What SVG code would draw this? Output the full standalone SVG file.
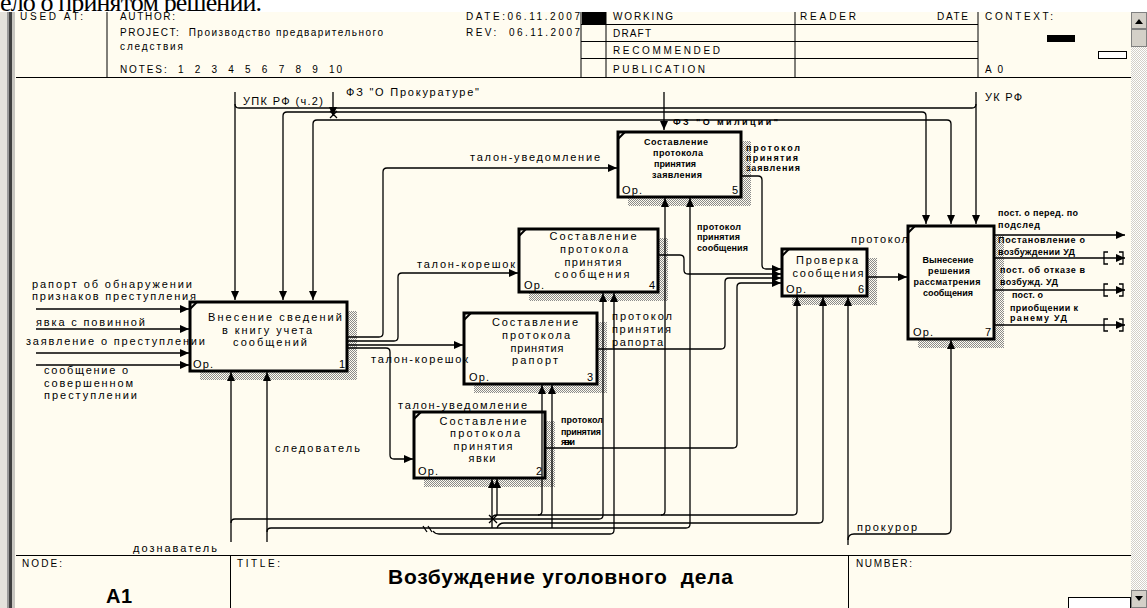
<svg xmlns="http://www.w3.org/2000/svg" width="1147" height="608" viewBox="0 0 1147 608">
<defs>
<style>
.t{font-family:"Liberation Sans",Arial,sans-serif;font-size:11px;fill:#000}
.s{font-family:"Liberation Sans",Arial,sans-serif;font-size:9px;font-weight:bold;fill:#000}
.h{font-family:"Liberation Sans",Arial,sans-serif;font-size:10px;fill:#000;white-space:pre}
.m{text-anchor:middle}
.ln{fill:none;stroke:#000;stroke-width:1.3}
.ar{marker-end:url(#a)}
.bx{fill:#FFFCF0;stroke:#000;stroke-width:3}
.sh{fill:url(#hatch)}
.fr{stroke:#000;stroke-width:1;fill:none}
.ck{fill:none;stroke:#000;stroke-width:2}
</style>
<pattern id="hatch" width="2" height="2" patternUnits="userSpaceOnUse"><rect width="2" height="2" fill="#FFFCF0"/><rect width="1" height="1" fill="#8a8a8a"/><rect x="1" y="1" width="1" height="1" fill="#8a8a8a"/></pattern>
<pattern id="chk" width="2" height="2" patternUnits="userSpaceOnUse"><rect width="2" height="2" fill="#ffffff"/><rect width="1" height="1" fill="#d4d0c8"/><rect x="1" y="1" width="1" height="1" fill="#d4d0c8"/></pattern>
<marker id="a" markerWidth="10" markerHeight="8" refX="9" refY="4" orient="auto" markerUnits="userSpaceOnUse"><path d="M0,0 L9,4 L0,8 z" fill="#000"/></marker>
<clipPath id="topc"><rect x="0" y="0" width="1147" height="12"/></clipPath>
</defs>

<rect x="0" y="0" width="1147" height="608" fill="#FFFCF0"/>

<g id="header">
<line class="fr" x1="107" y1="12" x2="107" y2="77"/>
<line class="fr" x1="581" y1="12" x2="581" y2="77"/>
<line class="fr" x1="606" y1="12" x2="606" y2="77"/>
<line class="fr" x1="795" y1="12" x2="795" y2="77"/>
<line class="fr" x1="978" y1="12" x2="978" y2="77"/>
<line class="fr" x1="581" y1="24.5" x2="978" y2="24.5"/>
<line class="fr" x1="581" y1="41.5" x2="978" y2="41.5"/>
<line class="fr" x1="581" y1="58.5" x2="978" y2="58.5"/>
<line class="fr" x1="16" y1="77.5" x2="1131" y2="77.5"/>
<rect x="582" y="12" width="24" height="12" fill="#000"/>
<text class="h" x="20" y="20" textLength="63">USED AT:</text>
<text class="h" x="120" y="20" textLength="55">AUTHOR:</text>
<text class="h" x="120" y="36" textLength="263">PROJECT:  Производство предварительного</text>
<text class="h" x="120" y="50" textLength="63">следствия</text>
<text class="h" x="120" y="73" textLength="222">NOTES:  1  2  3  4  5  6  7  8  9  10</text>
<text class="h" x="466" y="20" textLength="114">DATE:06.11.2007</text>
<text class="h" x="466" y="36" textLength="114">REV:  06.11.2007</text>
<text class="h" x="613" y="20" textLength="60">WORKING</text>
<text class="h" x="613" y="37" textLength="38">DRAFT</text>
<text class="h" x="613" y="54" textLength="107">RECOMMENDED</text>
<text class="h" x="613" y="73" textLength="92">PUBLICATION</text>
<text class="h" x="800" y="20" textLength="56">READER</text>
<text class="h" x="937" y="20" textLength="31">DATE</text>
<text class="h" x="985" y="20" textLength="68">CONTEXT:</text>
<text class="h" x="985" y="73" textLength="18">A0</text>
<rect x="1047" y="35" width="28" height="7" fill="#000"/>
<rect x="1098.5" y="51.5" width="28" height="7" fill="#fff" stroke="#000" stroke-width="1"/>
</g>

<rect x="0" y="0" width="1147" height="12" fill="#ffffff"/>
<text x="0" y="11" clip-path="url(#topc)" font-family="'Liberation Serif','Times New Roman',serif" font-size="26" textLength="262">ело о принятом решении.</text>

<g id="frame">
<rect x="0" y="12" width="7" height="596" fill="#e4e2dc"/>
<rect x="7" y="12" width="2" height="596" fill="#9a9a9a"/>
<rect x="9" y="12" width="3" height="596" fill="#404040"/>
<rect x="12" y="12" width="3" height="596" fill="#c8c6c0"/>
<rect x="1131" y="12" width="16" height="596" fill="url(#chk)"/>
<rect x="1131.5" y="12.5" width="15" height="16" fill="#d4d0c8" stroke="#808080"/>
<path d="M1135,24 L1139,19 L1143,24 z" fill="#000"/>
<rect x="1131.5" y="29.5" width="15" height="17" fill="#d4d0c8" stroke="#808080"/>
<rect x="1131.5" y="590.5" width="15" height="17" fill="#d4d0c8" stroke="#808080"/>
<path d="M1135,596 L1143,596 L1139,601 z" fill="#000"/>
<rect x="1068.5" y="597.5" width="62" height="11" fill="#fff" stroke="#000"/>
<line class="fr" x1="16" y1="555.5" x2="1131" y2="555.5"/>
<line class="fr" x1="230.5" y1="555" x2="230.5" y2="608"/>
<line class="fr" x1="848.5" y1="555" x2="848.5" y2="608"/>
<text class="h" x="22" y="567" textLength="40">NODE:</text>
<text class="h" x="237" y="567" textLength="43">TITLE:</text>
<text class="h" x="856" y="567" textLength="56">NUMBER:</text>
<text x="106" y="603" font-family="'Liberation Sans',Arial,sans-serif" font-size="20" font-weight="bold" textLength="26">A1</text>
<text x="388" y="584" font-family="'Liberation Sans',Arial,sans-serif" font-size="21" font-weight="bold" style="white-space:pre" textLength="345">Возбуждение уголовного  дела</text>
</g>

<g id="node1">
<rect class="sh" x="200" y="311" width="157" height="69"/>
<rect class="bx" x="190" y="302" width="157" height="69"/>
<path class="ck" d="M190,309 L197,302"/>
<text class="t m" x="275" y="321" textLength="134">Внесение сведений</text>
<text class="t m" x="267" y="334" textLength="90">в книгу учета</text>
<text class="t m" x="270" y="346" textLength="74">сообщений</text>
<text class="t" x="193" y="368" textLength="20">Ор.</text>
<text class="t" x="339" y="368">1</text>
</g>

<g id="node2">
<rect class="sh" x="424" y="421" width="131" height="66"/>
<rect class="bx" x="414" y="412" width="131" height="66"/>
<path class="ck" d="M414,419 L421,412"/>
<text class="t m" x="483" y="425" textLength="87">Составление</text>
<text class="t m" x="485" y="437" textLength="70">протокола</text>
<text class="t m" x="483" y="450" textLength="59">принятия</text>
<text class="t m" x="482" y="462" textLength="27">явки</text>
<text class="t" x="418" y="475" textLength="20">Ор.</text>
<text class="t" x="536" y="475">2</text>
</g>

<g id="node3">
<rect class="sh" x="474" y="322" width="133" height="71"/>
<rect class="bx" x="464" y="313" width="133" height="71"/>
<path class="ck" d="M464,320 L471,313"/>
<text class="t m" x="535" y="326" textLength="86">Составление</text>
<text class="t m" x="536" y="339" textLength="68">протокола</text>
<text class="t m" x="537" y="352" textLength="53">принятия</text>
<text class="t m" x="535" y="364" textLength="46">рапорт</text>
<text class="t" x="469" y="381" textLength="20">Ор.</text>
<text class="t" x="587" y="381">3</text>
</g>

<g id="node4">
<rect class="sh" x="529" y="238" width="139" height="63"/>
<rect class="bx" x="519" y="229" width="139" height="63"/>
<path class="ck" d="M519,236 L526,229"/>
<text class="t m" x="593" y="240" textLength="87">Составление</text>
<text class="t m" x="594" y="253" textLength="68">протокола</text>
<text class="t m" x="593" y="266" textLength="57">принятия</text>
<text class="t m" x="592" y="278" textLength="75">сообщения</text>
<text class="t" x="524" y="289" textLength="20">Ор.</text>
<text class="t" x="649" y="289">4</text>
</g>

<g id="node5">
<rect class="sh" x="628" y="141" width="123" height="65"/>
<rect class="bx" x="618" y="132" width="123" height="65"/>
<path class="ck" d="M618,139 L625,132"/>
<text class="s m" x="676" y="145" textLength="64">Составление</text>
<text class="s m" x="678" y="156" textLength="50">протокола</text>
<text class="s m" x="675" y="167" textLength="42">принятия</text>
<text class="s m" x="677" y="178" textLength="50">заявления</text>
<text class="t" x="622" y="194" textLength="20">Ор.</text>
<text class="t" x="732" y="194">5</text>
</g>

<g id="node6">
<rect class="sh" x="792" y="258" width="85" height="47"/>
<rect class="bx" x="782" y="249" width="85" height="47"/>
<path class="ck" d="M782,256 L789,249"/>
<text class="t m" x="827" y="264" textLength="62">Проверка</text>
<text class="t m" x="828" y="277" textLength="71">сообщения</text>
<text class="t" x="786" y="293" textLength="20">Ор.</text>
<text class="t" x="858" y="293">6</text>
</g>

<g id="node7">
<rect class="sh" x="918" y="235" width="86" height="113"/>
<rect class="bx" x="908" y="226" width="86" height="113"/>
<path class="ck" d="M908,233 L915,226"/>
<text class="s m" x="948" y="263" textLength="51">Вынесение</text>
<text class="s m" x="949" y="274" textLength="42">решения</text>
<text class="s m" x="947" y="285" textLength="67">рассматрения</text>
<text class="s m" x="948" y="296" textLength="50">сообщения</text>
<text class="t" x="913" y="336" textLength="20">Ор.</text>
<text class="t" x="985" y="336">7</text>
</g>

<g id="connectors" class="ln">
<path class="ar" d="M235,92 V300"/>
<path d="M235,104 q0,4 4,4 H972 q4,0 4,-4"/>
<path class="ar" d="M976,92 V224"/>
<path class="ar" d="M287,112 q-4,0 -4,4 V300"/>
<path class="ar" d="M287,112 H922 q4,0 4,4 V224"/>
<path class="ar" d="M317,120 q-4,0 -4,4 V300"/>
<path class="ar" d="M317,120 H947 q4,0 4,4 V224"/>
<path class="ar" d="M333,92 V116"/>
<path d="M330,111 l7,7 M337,111 l-7,7"/>
<path class="ar" d="M664,92 V130"/>

<path class="ar" d="M36,309 H189"/>
<path class="ar" d="M36,329 H189"/>
<path class="ar" d="M36,353 H189"/>
<path class="ar" d="M36,365 H189"/>

<path class="ar" d="M348,337 H379 q4,0 4,-4 V172 q0,-4 4,-4 H617"/>
<path class="ar" d="M348,341 H394 q4,0 4,-4 V277 q0,-4 4,-4 H518"/>
<path class="ar" d="M348,345 H463"/>
<path class="ar" d="M348,348 H386 q4,0 4,4 V455 q0,4 4,4 H413"/>

<path class="ar" d="M742,176 H758 q4,0 4,4 V265 q0,4 4,4 H781"/>
<path class="ar" d="M659,255 H680 q4,0 4,4 V270 q0,4 4,4 H781"/>
<path class="ar" d="M598,349 H721 q4,0 4,-4 V282 q0,-4 4,-4 H781"/>
<path class="ar" d="M546,448 H733 q4,0 4,-4 V287 q0,-4 4,-4 H781"/>
<path class="ar" d="M868,277 H907"/>

<path class="ar" d="M995,235 H1125"/>
<path class="ar" d="M995,258 H1125"/>
<path class="ar" d="M995,290 H1125"/>
<path class="ar" d="M995,325 H1125"/>
<path d="M1108,252 h-4 v12 h4 M1119,252 h4 v12 h-4"/>
<path d="M1108,284 h-4 v12 h4 M1119,284 h4 v12 h-4"/>
<path d="M1108,319 h-4 v12 h4 M1119,319 h4 v12 h-4"/>

<path class="ar" d="M231,542 V372"/>
<path class="ar" d="M267,542 V372"/>
<path class="ar" d="M231,523 q0,-4 4,-4 H599 q4,0 4,-4 V293"/>
<path class="ar" d="M492,519 q0,-4 5,-4 H793 q4,0 4,-4 V297"/>
<path class="ar" d="M538,515 q4,0 4,-4 V385"/>
<path class="ar" d="M661,515 q4,0 4,-4 V198"/>
<path class="ar" d="M267,532 q0,-4 4,-4 H686 q4,0 4,-4 V198"/>
<path class="ar" d="M552,528 V385"/>
<path class="ar" d="M492,528 V479"/>
<path class="ar" d="M497,515 V479"/>
<path class="ar" d="M497,528 q2,-5 7,-5 H819 q4,0 4,-4 V297"/>
<path class="ar" d="M433,531 q2,3 6,3 H610 q4,0 4,-4 V293"/>
<path d="M423,526 l4,6 M428,526 l4,6"/>
<path d="M489,515 l8,8 M497,515 l-8,8"/>
<path class="ar" d="M848,545 V297"/>
<path class="ar" d="M848,540 q0,-6 6,-6 H946 q5,0 5,-5 V340"/>
</g>

<g id="labels">
<text class="t" x="243" y="105" textLength="80">УПК РФ (ч.2)</text>
<text class="t" x="346" y="96" textLength="133">ФЗ "О Прокуратуре"</text>
<text class="s" x="673" y="125" textLength="105">ФЗ "О милиции"</text>
<text class="t" x="985" y="101" textLength="37">УК РФ</text>
<text class="t" x="32" y="288" textLength="160">рапорт об обнаружении</text>
<text class="t" x="32" y="300" textLength="164">признаков преступления</text>
<text class="t" x="36" y="326" textLength="109">явка с повинной</text>
<text class="t" x="26" y="345" textLength="179">заявление о преступлении</text>
<text class="t" x="44" y="374" textLength="84">сообщение о</text>
<text class="t" x="44" y="387" textLength="89">совершенном</text>
<text class="t" x="44" y="399" textLength="93">преступлении</text>
<text class="t" x="470" y="161" textLength="130">талон-уведомление</text>
<text class="t" x="417" y="268" textLength="98">талон-корешок</text>
<text class="t" x="371" y="363" textLength="97">талон-корешок</text>
<text class="t" x="398" y="409" textLength="129">талон-уведомление</text>
<text class="s" x="746" y="151" textLength="54">протокол</text>
<text class="s" x="746" y="161" textLength="52">принятия</text>
<text class="s" x="746" y="171" textLength="54">заявления</text>
<text class="s" x="697" y="230" textLength="44">протокол</text>
<text class="s" x="697" y="240" textLength="43">принятия</text>
<text class="s" x="697" y="251" textLength="51">сообщения</text>
<text class="t" x="612" y="320" textLength="60">протокол</text>
<text class="t" x="612" y="333" textLength="59">принятия</text>
<text class="t" x="612" y="346" textLength="51">рапорта</text>
<text class="s" x="561" y="423" textLength="42">протокол</text>
<text class="s" x="561" y="435" textLength="40">принятия</text>
<text class="s" x="561" y="445" textLength="14">явки</text>
<text class="t" x="851" y="243" textLength="57">протокол</text>
<text class="s" x="998" y="216" textLength="80">пост. о перед. по</text>
<text class="s" x="998" y="228" textLength="42">подслед</text>
<text class="s" x="998" y="243" textLength="87">Постановление о</text>
<text class="s" x="998" y="255" textLength="77">возбуждении УД</text>
<text class="s" x="1000" y="273" textLength="85">пост. об отказе в</text>
<text class="s" x="1000" y="285" textLength="58">возбужд. УД</text>
<text class="s" x="1012" y="298" textLength="31">пост. о</text>
<text class="s" x="1010" y="311" textLength="68">приобщении к</text>
<text class="s" x="1010" y="321" textLength="57">ранему УД</text>
<text class="t" x="275" y="452" textLength="85">следователь</text>
<text class="t" x="133" y="552" textLength="84">дознаватель</text>
<text class="t" x="857" y="531" textLength="60">прокурор</text>
</g>
</svg>
